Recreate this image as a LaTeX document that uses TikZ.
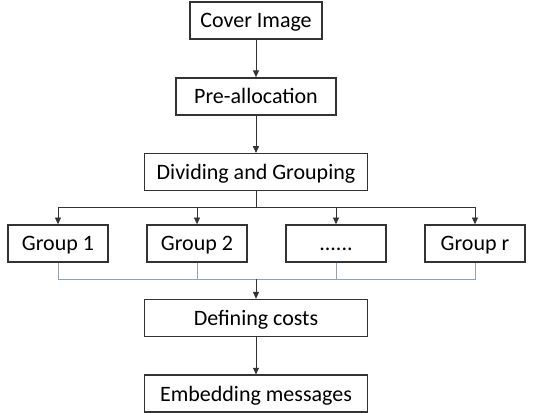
\documentclass[tikz,border=0pt]{standalone}
\usepackage{fontspec}
\setmainfont{Carlito}
\usetikzlibrary{arrows.meta,positioning}
\definecolor{boxLine}{HTML}{333333}
\definecolor{joinLine}{HTML}{8FA3B5}

\begin{document}
\begin{tikzpicture}[>={Triangle[length=5pt,width=4.5pt]},font=\fontsize{16.5}{20}\selectfont,
        stepbox/.style={draw=boxLine,line width=1.1pt,minimum height=27.75pt,
                   text height=13.5pt,text depth=2.5pt,inner sep=2pt,fill=white},
        groupbox/.style={stepbox,minimum width=75pt},
        link/.style={->,line width=0.6pt,draw=boxLine},
        joinline/.style={line width=0.6pt,draw=joinLine}]
        \useasboundingbox (0,0) rectangle (399.75pt,-309pt);
        \node[stepbox,minimum width=99pt] (cover) at (192pt,-15.4pt) {Cover Image};
        \node[stepbox,minimum width=120pt,below=28pt of cover] (pre) {Pre-allocation};
        \node[stepbox,minimum width=167pt,below=28pt of pre] (dv) {Dividing and Grouping};
        \node[groupbox] (g1) at (43.5pt,-182.6pt) {Group 1};
        \node[groupbox] (g2) at (147.75pt,-182.6pt) {Group 2};
        \node[groupbox] (gd) at (252pt,-182.6pt) {......};
        \node[groupbox] (gr) at (356.25pt,-182.6pt) {Group r};
        \node[stepbox,minimum width=167pt] (def) at (192pt,-238.4pt) {Defining costs};
        \node[stepbox,minimum width=167pt,below=28pt of def] (emb) {Embedding messages};
        \coordinate[below=12.25pt of dv] (split);
        \coordinate[above=14.5pt of def] (merge);
        \draw[link] (cover) -- (pre);
        \draw[link] (pre) -- (dv);
        \draw[line width=0.6pt,boxLine] (dv) -- (split);
        \draw[link] (split) -| (g1);
        \draw[link] (split) -| (g2);
        \draw[link] (split) -| (gd);
        \draw[link] (split) -| (gr);
        \draw[joinline] (g1) |- (merge);
        \draw[joinline] (g2) |- (merge);
        \draw[joinline] (gd) |- (merge);
        \draw[joinline] (gr) |- (merge);
        \draw[link] (merge) -- (def);
        \draw[link] (def) -- (emb);
      \end{tikzpicture}
\end{document}
